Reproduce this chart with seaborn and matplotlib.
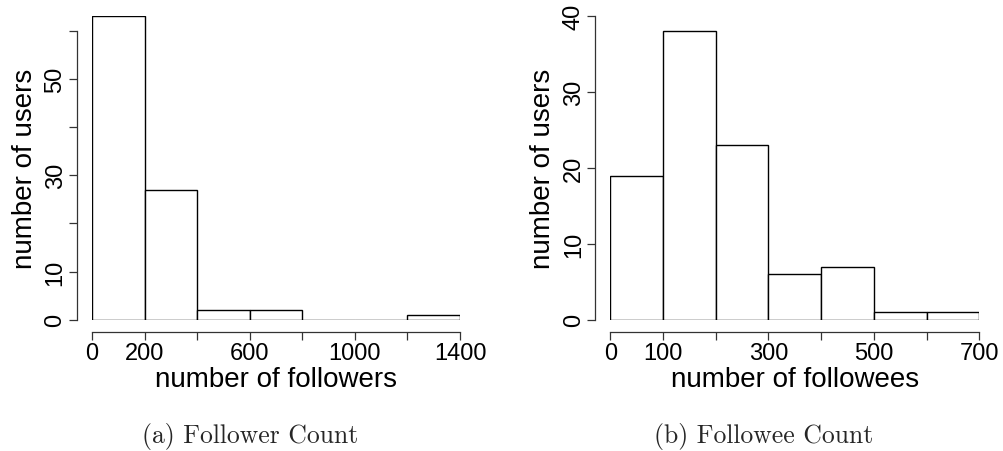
import matplotlib
matplotlib.use("Agg")
import matplotlib.pyplot as plt
import seaborn as sns
import numpy as np
import pandas as pd

# Binned counts for the two histograms
follower_edges = [0, 200, 400, 600, 800, 1000, 1200, 1400]
follower_counts = [63, 27, 2, 2, 0, 0, 1]
followee_edges = [0, 100, 200, 300, 400, 500, 600, 700]
followee_counts = [19, 38, 23, 6, 7, 1, 1]

follower_xticks = [0, 200, 400, 600, 800, 1000, 1200, 1400]
follower_xlabels = ["0", "200", "", "600", "", "1000", "", "1400"]
follower_yticks = [0, 10, 20, 30, 40, 50, 60]
follower_ylabels = ["0", "10", "", "30", "", "50", ""]
followee_xticks = [0, 100, 200, 300, 400, 500, 600, 700]
followee_xlabels = ["0", "100", "", "300", "", "500", "", "700"]
followee_yticks = [0, 10, 20, 30, 40]
followee_ylabels = ["0", "10", "20", "30", "40"]

sns.set_theme(style="white")
plt.rcParams["font.family"] = ["Liberation Sans", "DejaVu Sans"]

W, H = 1004, 452
fig = plt.figure(figsize=(W / 100, H / 100), dpi=100)


def add_axes(x0, x1, y_top, y_bot):
    return fig.add_axes([x0 / W, 1 - y_bot / H, (x1 - x0) / W, (y_bot - y_top) / H])


ax1 = add_axes(92, 460, 17.3, 320.7)
ax2 = add_axes(610.3, 979.3, 17.3, 320.7)


def draw_hist(ax, edges, counts, xticks, xlabels, yticks, ylabels, ytop, xlabel):
    mids = [(a + b) / 2 for a, b in zip(edges[:-1], edges[1:])]
    df = pd.DataFrame({"value": mids, "count": counts})
    sns.histplot(data=df, x="value", weights="count", bins=list(edges), ax=ax,
                 color="white", edgecolor="black", linewidth=1.0, alpha=1.0)
    ax.set_xlim(edges[0], edges[-1])
    ax.set_ylim(0, ytop)
    for s in ("top", "right"):
        ax.spines[s].set_visible(False)
    ax.spines["left"].set_position(("outward", 10.8))
    ax.spines["bottom"].set_position(("outward", 8.9))
    ax.spines["left"].set_bounds(yticks[0], yticks[-1])
    ax.spines["bottom"].set_bounds(xticks[0], xticks[-1])
    for s in ("left", "bottom"):
        ax.spines[s].set_color("#333333")
        ax.spines[s].set_linewidth(0.9)
    ax.set_xticks(xticks)
    ax.set_xticklabels(xlabels)
    ax.set_yticks(yticks)
    ax.set_yticklabels(ylabels, rotation=90, va="center")
    ax.tick_params(axis="both", direction="out", length=5.5, width=0.9,
                   color="#333333", labelsize=17, labelcolor="black",
                   left=True, bottom=True)
    ax.tick_params(axis="y", pad=2)
    ax.tick_params(axis="x", pad=2)
    ax.set_xlabel(xlabel, fontsize=20, color="black")
    ax.set_ylabel("number of users", fontsize=20, color="black")
    ax.yaxis.set_label_coords(-0.182, 0.5)
    ax.xaxis.set_label_coords(0.5, -0.195)
    ax.xaxis.label.set_va("center")
    ax.yaxis.label.set_va("center")
    ax.patch.set_alpha(0)


draw_hist(ax1, follower_edges, follower_counts, follower_xticks, follower_xlabels,
          follower_yticks, follower_ylabels, 63, "number of followers")
draw_hist(ax2, followee_edges, followee_counts, followee_xticks, followee_xlabels,
          followee_yticks, followee_ylabels, 40, "number of followees")

fig.text(250 / W, 1 - 437 / H, "(a) Follower Count", ha="center", va="center",
         fontsize=18.5, family=["cmr10", "DejaVu Serif"])
fig.text(764 / W, 1 - 437 / H, "(b) Followee Count", ha="center", va="center",
         fontsize=18.5, family=["cmr10", "DejaVu Serif"])

fig.savefig("out.png", dpi=100, facecolor="white")
